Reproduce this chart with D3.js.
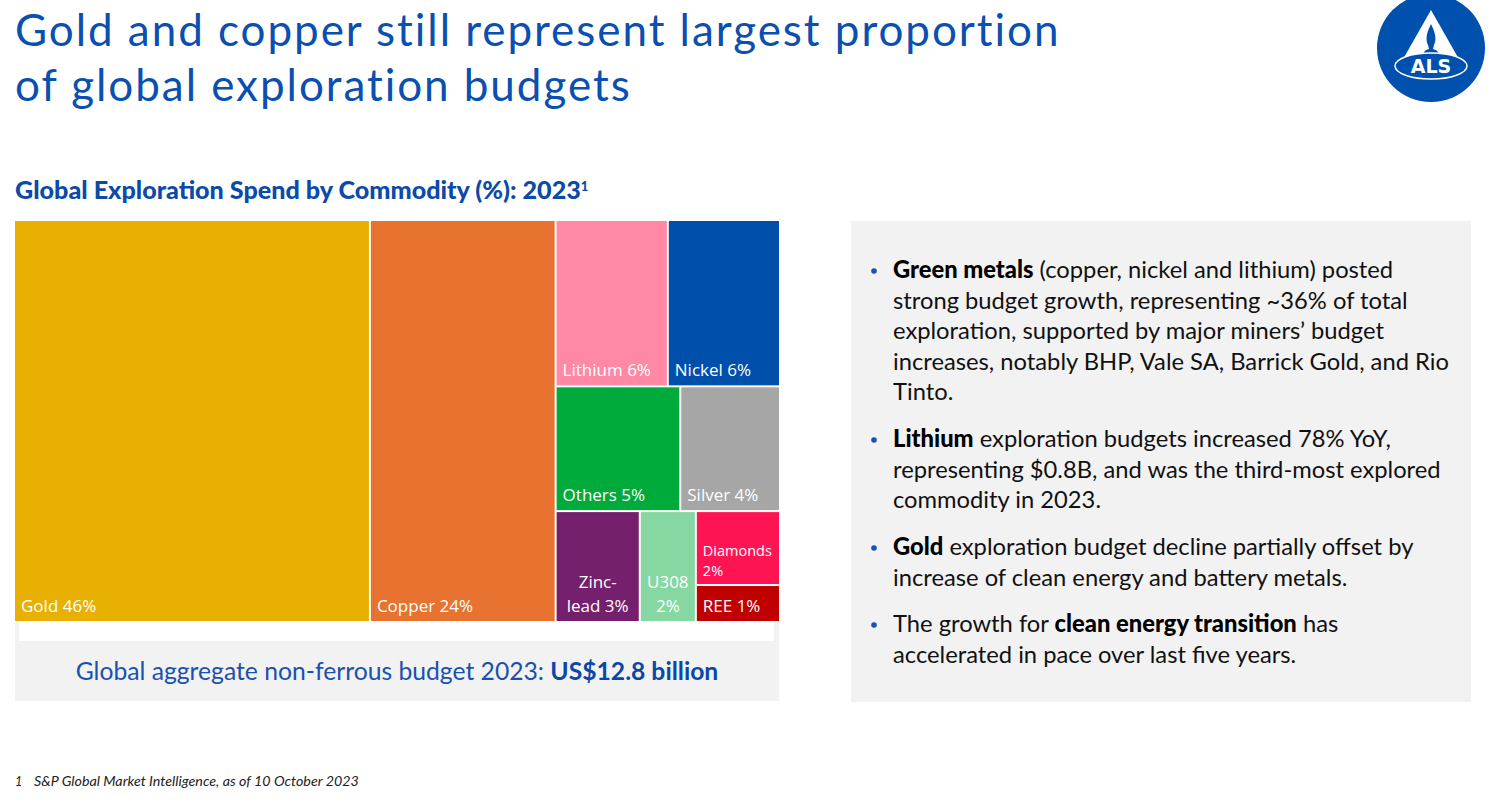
<!DOCTYPE html>
<html>
<head>
<meta charset="utf-8">
<script src="https://cdn.jsdelivr.net/npm/d3@7/dist/d3.min.js"></script>
<style>
  html, body { margin: 0; padding: 0; background: #ffffff; }
  svg { display: block; }
</style>
</head>
<body>
<svg id="chart" width="1503" height="808"></svg>
<script>
// ---------- DATA ----------
const categories = ["Gold", "Copper", "Lithium", "Nickel", "Others", "Silver", "Zinc-lead", "U308", "Diamonds", "REE"];
const shares = [46, 24, 6, 6, 5, 4, 3, 2, 2, 1];
const groupPaths = [[], [], ["Rest", "Row1"], ["Rest", "Row1"], ["Rest", "Row2"], ["Rest", "Row2"],
                    ["Rest", "Row3"], ["Rest", "Row3"], ["Rest", "Row3", "DR"], ["Rest", "Row3", "DR"]];
const labelLines = [["Gold 46%"], ["Copper 24%"], ["Lithium 6%"], ["Nickel 6%"], ["Others 5%"], ["Silver 4%"],
                    ["Zinc-", "lead 3%"], ["U308", "2%"], ["Diamonds", "2%"], ["REE 1%"]];
const colors = ["#e8b000", "#e87230", "#ff88a5", "#004fab", "#00aa3b", "#a6a6a6", "#75206c", "#86d7a2", "#ff1453", "#c00000"];

const titleLines = ["Gold and copper still represent largest proportion", "of global exploration budgets"];
const subtitle = "Global Exploration Spend by Commodity (%): 2023";
const totalText = ["Global aggregate non-ferrous budget 2023: ", "US$12.8 billion"];
const bullets = [
  [[["Green metals", true], [" (copper, nickel and lithium) posted", false]],
   [["strong budget growth, representing ~36% of total", false]],
   [["exploration, supported by major miners\u2019 budget", false]],
   [["increases, notably BHP, Vale SA, Barrick Gold, and Rio", false]],
   [["Tinto.", false]]],
  [[["Lithium", true], [" exploration budgets increased 78% YoY,", false]],
   [["representing $0.8B, and was the third-most explored", false]],
   [["commodity in 2023.", false]]],
  [[["Gold", true], [" exploration budget decline partially offset by", false]],
   [["increase of clean energy and battery metals.", false]]],
  [[["The growth for ", false], ["clean energy transition", true], [" has", false]],
   [["accelerated in pace over last five years.", false]]]
];
const footnote = "S&P Global Market Intelligence, as of 10 October 2023";

// ---------- HELPERS ----------
const svg = d3.select("#chart");
const BLUE = "#0b4aa8";

function fitFont(sel, targetWidth) {
  const node = sel.node();
  const fs = parseFloat(sel.attr("font-size"));
  const w = node.getComputedTextLength();
  sel.attr("font-size", (fs * targetWidth / w).toFixed(2));
}
function fitSpacing(sel, targetWidth) {
  const node = sel.node();
  const w = node.getComputedTextLength();
  const n = node.textContent.length;
  sel.attr("letter-spacing", ((targetWidth - w) / n).toFixed(3));
}

// ---------- TITLE ----------
const titleFont = "Lato, 'Noto Sans', sans-serif";
const t1 = svg.append("text").attr("x", 15).attr("y", 46).attr("font-family", titleFont)
  .attr("font-size", 44).attr("font-weight", 400).attr("fill", "#0b4fb0").text(titleLines[0]);
fitSpacing(t1, 1047);
svg.append("text").attr("x", 15).attr("y", 101).attr("font-family", titleFont)
  .attr("font-size", 44).attr("font-weight", 400).attr("letter-spacing", t1.attr("letter-spacing"))
  .attr("fill", "#0b4fb0").text(titleLines[1]);

// ---------- LOGO ----------
const logo = svg.append("g").attr("transform", "translate(1431,48)");
logo.append("circle").attr("r", 54).attr("fill", "#0050ad");
logo.append("path").attr("d", "M0,-38 L-33,20 L33,20 Z").attr("fill", "#ffffff");
logo.append("path").attr("d", "M0,-24 C4,-16 6,-9 3,-3 L2,1 C6,2 9,5 7,8 L-7,8 C-9,5 -6,2 -2,1 L-3,-3 C-6,-9 -4,-16 0,-24 Z")
  .attr("fill", "#0050ad");
logo.append("ellipse").attr("cx", 0).attr("cy", 18).attr("rx", 36).attr("ry", 13)
  .attr("fill", "#0050ad").attr("stroke", "#ffffff").attr("stroke-width", 1.5);
logo.append("text").attr("x", 0).attr("y", 25).attr("text-anchor", "middle")
  .attr("font-family", "'DejaVu Sans', sans-serif").attr("font-weight", "bold").attr("font-size", 19)
  .attr("fill", "#ffffff").text("ALS");

// ---------- SUBTITLE ----------
const sub = svg.append("text").attr("x", 15).attr("y", 199).attr("font-family", "Lato, sans-serif")
  .attr("font-weight", 900).attr("font-size", 21).attr("fill", BLUE);
sub.append("tspan").text(subtitle);
fitFont(sub, 566);
sub.append("tspan").attr("dy", -8).attr("font-size", 13).text("1");

// ---------- TREEMAP ----------
const X0 = 15, Y0 = 221, W = 764, H = 400;
const rootObj = { name: "root", children: [] };
categories.forEach((c, i) => {
  let parent = rootObj;
  groupPaths[i].forEach(g => {
    let child = parent.children.find(ch => ch.name === g);
    if (!child) { child = { name: g, children: [] }; parent.children.push(child); }
    parent = child;
  });
  parent.children.push({ name: c, value: shares[i], idx: i });
});
const root = d3.hierarchy(rootObj).sum(d => d.value || 0);
d3.treemap().tile(d3.treemapSliceDice).size([W, H]).paddingInner(2).round(false)(root);

const tm = svg.append("g").attr("transform", `translate(${X0},${Y0})`);
const leaves = tm.selectAll("g.leaf").data(root.leaves()).join("g").attr("class", "leaf");
leaves.append("rect")
  .attr("x", d => d.x0).attr("y", d => d.y0)
  .attr("width", d => d.x1 - d.x0).attr("height", d => d.y1 - d.y0)
  .attr("fill", d => colors[d.data.idx]);

leaves.each(function(d) {
  const i = d.data.idx;
  const lines = labelLines[i];
  const small = categories[i] === "Diamonds";
  const centered = lines.length > 1 && !small;
  const fs = small ? 14.5 : 17;
  const lh = small ? 20 : 24.5;
  const g = d3.select(this);
  const n = lines.length;
  lines.forEach((ln, k) => {
    g.append("text")
      .attr("x", centered ? (d.x0 + d.x1) / 2 : d.x0 + 6)
      .attr("y", d.y1 - (small ? 8 : 9) - (n - 1 - k) * lh)
      .attr("text-anchor", centered ? "middle" : "start")
      .attr("font-family", "'Open Sans', 'Noto Sans', sans-serif")
      .attr("font-size", fs).attr("fill", "#ffffff").text(ln);
  });
});

// bottom panel
svg.append("rect").attr("x", 15).attr("y", 621).attr("width", 764).attr("height", 80).attr("fill", "#f2f2f2");
svg.append("rect").attr("x", 19).attr("y", 621).attr("width", 755).attr("height", 20).attr("fill", "#ffffff");
const tot = svg.append("text").attr("x", 397).attr("y", 680).attr("text-anchor", "middle")
  .attr("font-family", "Lato, sans-serif").attr("font-size", 22).attr("fill", "#1a50b0");
tot.append("tspan").text(totalText[0]);
tot.append("tspan").attr("font-weight", "bold").attr("fill", "#0b47a8").text(totalText[1]);
fitFont(tot, 643);

// ---------- RIGHT PANEL ----------
svg.append("rect").attr("x", 851).attr("y", 221).attr("width", 620).attr("height", 481).attr("fill", "#f2f2f2");
const bodyFont = "Lato, 'Noto Sans', sans-serif";
const bulletStartY = [278, 447, 555, 632];
const lineH = 30.6;
let bodySize = 21;
const probe = svg.append("text").attr("font-family", bodyFont).attr("font-size", 21)
  .text("increases, notably BHP, Vale SA, Barrick Gold, and Rio");
bodySize = 21 * 556 / probe.node().getComputedTextLength();
probe.remove();

bullets.forEach((b, bi) => {
  svg.append("circle").attr("cx", 874).attr("cy", bulletStartY[bi] - 7).attr("r", 2.8).attr("fill", "#1a50b0");
  b.forEach((line, li) => {
    const t = svg.append("text").attr("x", 893).attr("y", bulletStartY[bi] + li * lineH)
      .attr("font-family", bodyFont).attr("font-size", bodySize.toFixed(2)).attr("fill", "#111111");
    line.forEach(seg => {
      t.append("tspan").attr("font-weight", seg[1] ? 900 : 400).attr("fill", seg[1] ? "#000" : "#111").text(seg[0]);
    });
  });
});

// ---------- FOOTNOTE ----------
svg.append("text").attr("x", 15).attr("y", 786).attr("font-family", bodyFont).attr("font-style", "italic")
  .attr("font-size", 12.5).attr("fill", "#222").text("1");
const fn = svg.append("text").attr("x", 34).attr("y", 786).attr("font-family", bodyFont).attr("font-style", "italic")
  .attr("font-size", 12.5).attr("fill", "#222").text(footnote);
fitFont(fn, 325);
</script>
</body>
</html>
